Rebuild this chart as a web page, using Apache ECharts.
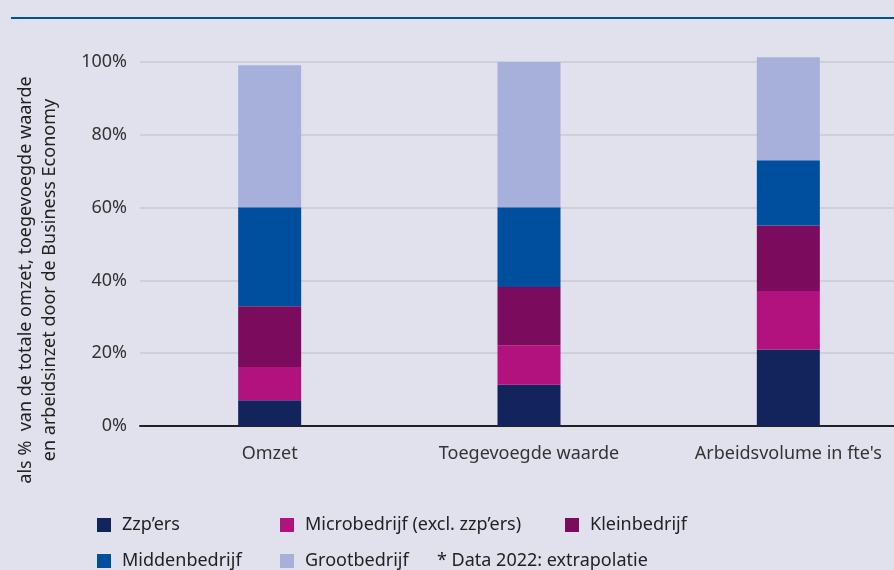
<!DOCTYPE html>
<html>
<head>
<meta charset="utf-8">
<script src="https://cdn.jsdelivr.net/npm/echarts@6/dist/echarts.min.js"></script>
<style>
	html, body { margin: 0; padding: 0; background: #e1e1ee; overflow: hidden; }
	#barchartDom { width: 920px; height: 570px; }
</style>
</head>
<body>
<div id="barchartDom"></div>
<script>
var categories = ['Omzet', 'Toegevoegde waarde', 'Arbeidsvolume in fte\'s'];
var zzpers = [7.1, 11.3, 21.0];
var microbedrijf = [9.1, 10.9, 16.1];
var kleinbedrijf = [16.7, 16.0, 18.0];
var middenbedrijf = [27.2, 21.9, 17.9];
var grootbedrijf = [39.0, 39.9, 28.3];
var yTicks = [0, 20, 40, 60, 80, 100];

barchart();

function barchart() {
	var dom = document.getElementById("barchartDom");
	var myChart = echarts.init(dom);
	var font = 'Noto Sans';
	var fs = 18;

	function serie(name, data, color) {
		return {
			name: name,
			type: 'bar',
			stack: 'totaal',
			barWidth: 63,
			clip: false,
			data: data,
			itemStyle: { color: color },
			emphasis: { disabled: true }
		};
	}

	function legend(left, names) {
		return {
			orient: 'vertical',
			left: left,
			top: 516,
			height: 60,
			padding: 0,
			icon: 'rect',
			itemWidth: 14,
			itemHeight: 14,
			itemGap: 18,
			selectedMode: false,
			textStyle: { color: '#222', fontSize: fs, lineHeight: 14, padding: [0, 0, 0, 6] },
			data: names
		};
	}

	option = {
		backgroundColor: '#e1e1ee',
		animation: false,
		textStyle: { fontFamily: font },
		grid: {
			left: 140,
			top: 62,
			width: 778,
			bottom: 144
		},
		legend: [
			legend(97, ['Zzp’ers', 'Middenbedrijf']),
			legend(280, ['Microbedrijf (excl. zzp’ers)', 'Grootbedrijf']),
			legend(565, ['Kleinbedrijf'])
		],
		graphic: [{
			type: 'line',
			shape: { x1: 11, y1: 18, x2: 920, y2: 18 },
			style: { stroke: '#0050a0', lineWidth: 2 }
		}, {
			type: 'text',
			x: 38,
			y: 280,
			rotation: Math.PI / 2,
			style: {
				text: 'als %  van de totale omzet, toegevoegde waarde\nen arbeidsinzet door de Business Economy',
				fill: '#222',
				font: fs + 'px "' + font + '"',
				lineHeight: 24,
				align: 'center',
				verticalAlign: 'middle'
			}
		}, {
			type: 'text',
			x: 437,
			y: 561,
			style: {
				text: '* Data 2022: extrapolatie',
				fill: '#222',
				font: fs + 'px "' + font + '"',
				verticalAlign: 'middle'
			}
		}],
		xAxis: {
			type: 'category',
			data: categories,
			axisLine: { lineStyle: { color: '#222', width: 2 } },
			axisTick: { show: false },
			axisLabel: { color: '#333', fontSize: fs, margin: 19 }
		},
		yAxis: {
			type: 'value',
			min: yTicks[0],
			max: yTicks[yTicks.length - 1],
			interval: 20,
			axisLine: { show: false },
			axisTick: { show: false },
			splitLine: { lineStyle: { color: '#c8c8cc', width: 1.5 } },
			axisLabel: {
				color: '#333',
				fontSize: fs,
				margin: 13,
				formatter: '{value}%'
			}
		},
		series: [
			serie('Zzp’ers', zzpers, '#13235b'),
			serie('Microbedrijf (excl. zzp’ers)', microbedrijf, '#b2127e'),
			serie('Kleinbedrijf', kleinbedrijf, '#7b0b5d'),
			serie('Middenbedrijf', middenbedrijf, '#004f9f'),
			serie('Grootbedrijf', grootbedrijf, '#a6b0da')
		]
	};
	myChart.setOption(option, true);
};
</script>
</body>
</html>
